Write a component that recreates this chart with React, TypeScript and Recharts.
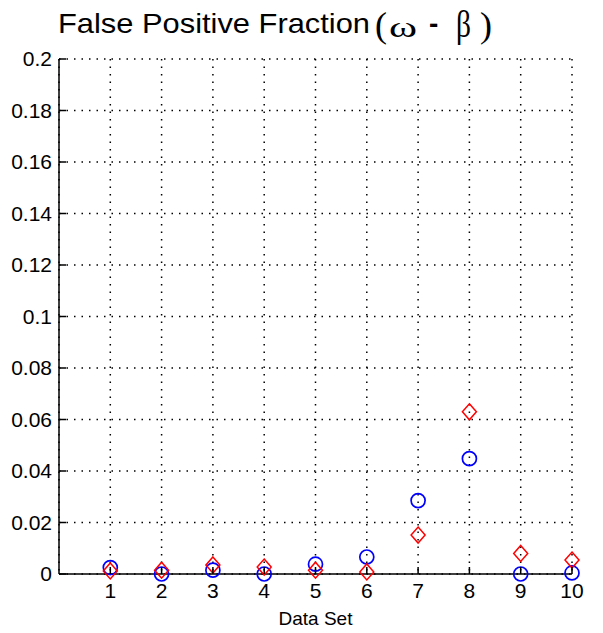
import { ScatterChart, Scatter, XAxis, YAxis, CartesianGrid } from 'recharts'

const dataSets = [1, 2, 3, 4, 5, 6, 7, 8, 9, 10]
const omegaCircles = [0.0025, 0.0, 0.0015, 0.0, 0.0038, 0.0066, 0.0285, 0.0448, 0.0, 0.0004]
const betaDiamonds = [0.0012, 0.0015, 0.0035, 0.0027, 0.0015, 0.0008, 0.0151, 0.063, 0.008, 0.0054]
const yTicks = [0, 0.02, 0.04, 0.06, 0.08, 0.1, 0.12, 0.14, 0.16, 0.18, 0.2]

const circleData = dataSets.map((d, i) => ({ x: d, y: omegaCircles[i] }))
const diamondData = dataSets.map((d, i) => ({ x: d, y: betaDiamonds[i] }))

const sans = '"Liberation Sans", Arial, sans-serif'
const serif = '"Liberation Serif", "Times New Roman", serif'

function fmt(v: number) {
    return String(Number(v.toFixed(2)))
}

function XTick(props: any) {
    const { x, y, payload } = props
    return (
        <g>
            <line x1={x} y1={y} x2={x} y2={y - 7} stroke="#000" strokeWidth={1.5} />
            <text x={x} y={y + 24} textAnchor="middle" fontFamily={sans} fontSize={21} fill="#000">
                {payload.value}
            </text>
        </g>
    )
}

function YTick(props: any) {
    const { x, y, payload } = props
    return (
        <g>
            <line x1={x} y1={y} x2={x + 7} y2={y} stroke="#000" strokeWidth={1.5} />
            <text x={x - 7} y={y + 7} textAnchor="end" fontFamily={sans} fontSize={21} fill="#000">
                {fmt(payload.value)}
            </text>
        </g>
    )
}

function Circle(props: any) {
    const { cx, cy } = props
    return <circle cx={cx} cy={cy} r={7} fill="none" stroke="#0000ff" strokeWidth={1.7} />
}

function Diamond(props: any) {
    const { cx, cy } = props
    return (
        <path
            d={`M${cx},${cy - 8} L${cx + 7},${cy} L${cx},${cy + 8} L${cx - 7},${cy} Z`}
            fill="none"
            stroke="#ff0000"
            strokeWidth={1.5}
        />
    )
}

function Title() {
    return (
        <svg width={603} height={52} style={{ position: 'absolute', left: 0, top: 0 }}>
            <text x={58} y={33} fontFamily={sans} fontSize={28} textLength={312} lengthAdjust="spacingAndGlyphs">
                False Positive Fraction
            </text>
            <text x={375} y={37} fontFamily={serif} fontSize={36}>(</text>
            <text x={389} y={37} fontFamily={serif} fontSize={30} textLength={28} lengthAdjust="spacingAndGlyphs">ω</text>
            <text x={429} y={33} fontFamily={sans} fontSize={28} fontWeight="bold">-</text>
            <text x={456} y={37} fontFamily={serif} fontSize={38} textLength={15} lengthAdjust="spacingAndGlyphs">β</text>
            <text x={480} y={37} fontFamily={serif} fontSize={36}>)</text>
        </svg>
    )
}

export default function App() {
    return (
        <div style={{ position: 'absolute', left: 0, top: 0, width: 603, height: 633, background: '#fff' }}>
            <Title />
            <ScatterChart width={603} height={633} margin={{ top: 59, right: 31, left: 0, bottom: 0 }}>
                <CartesianGrid stroke="#000" strokeDasharray="1.5 6" strokeWidth={1.5} />
                <XAxis
                    type="number"
                    dataKey="x"
                    domain={[0, 10]}
                    ticks={dataSets}
                    height={59}
                    tickSize={0}
                    tickMargin={0}
                    tick={<XTick />}
                    axisLine={{ stroke: '#000', strokeWidth: 1.5 }}
                    tickLine={false}
                    interval={0}
                    label={{
                        value: 'Data Set',
                        position: 'insideBottom',
                        offset: 8,
                        fontFamily: sans,
                        fontSize: 19,
                        fill: '#000',
                    }}
                />
                <YAxis
                    type="number"
                    dataKey="y"
                    domain={[0, 0.2]}
                    ticks={yTicks}
                    width={59}
                    tickSize={0}
                    tickMargin={0}
                    tick={<YTick />}
                    axisLine={{ stroke: '#000', strokeWidth: 1.5 }}
                    tickLine={false}
                    interval={0}
                />
                <Scatter data={circleData} shape={<Circle />} isAnimationActive={false} />
                <Scatter data={diamondData} shape={<Diamond />} isAnimationActive={false} />
            </ScatterChart>
        </div>
    )
}
